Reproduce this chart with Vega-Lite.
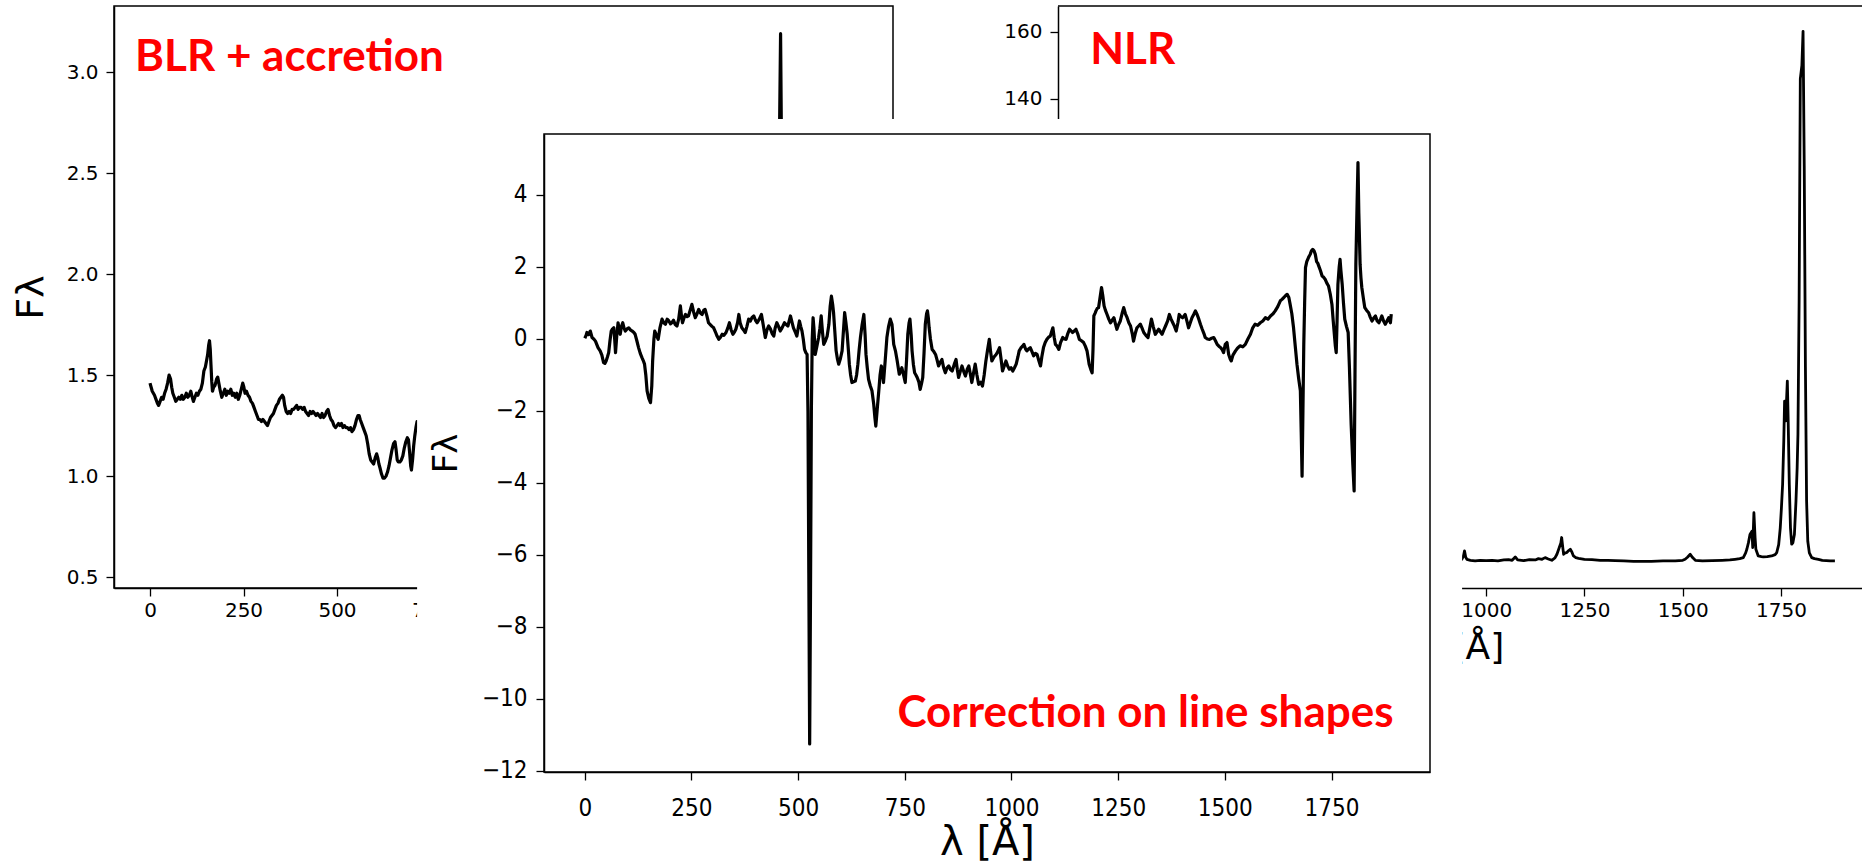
{
  "$schema": "https://vega.github.io/schema/vega-lite/v6.json",
  "background": "white",
  "padding": {"left": 11, "top": 5, "right": 0, "bottom": 0},
  "autosize": {"type": "pad"},
  "config": {
    "view": {"stroke": null},
    "axis": {"grid": false, "domainColor": "black", "domainWidth": 1.5, "tickColor": "black", "tickWidth": 1.3, "tickSize": 8,
      "labelColor": "black", "labelFont": "DejaVu Sans", "labelFontSize": 20, "labelPadding": 4,
      "titleColor": "black", "titleFont": "DejaVu Sans", "titleFontWeight": "normal", "titleFontSize": 38,
      "labelFlush": false, "labelOverlap": false}
  },
  "datasets": {
    "blr": [
      {"w":0,"f":1.46},{"w":3,"f":1.44},{"w":6,"f":1.42},{"w":9,"f":1.41},{"w":12,"f":1.40},{"w":16,"f":1.38},{"w":20,"f":1.36},{"w":23,"f":1.35},{"w":27,"f":1.37},{"w":31,"f":1.39},{"w":35,"f":1.38},{"w":39,"f":1.41},{"w":43,"f":1.43},{"w":47,"f":1.46},{"w":51,"f":1.50},{"w":55,"f":1.48},{"w":58,"f":1.44},{"w":61,"f":1.41},{"w":65,"f":1.39},{"w":69,"f":1.37},{"w":73,"f":1.38},{"w":77,"f":1.39},{"w":81,"f":1.38},{"w":85,"f":1.40},{"w":89,"f":1.38},{"w":93,"f":1.39},{"w":97,"f":1.41},{"w":101,"f":1.39},{"w":105,"f":1.40},{"w":109,"f":1.42},{"w":113,"f":1.39},{"w":116,"f":1.37},{"w":120,"f":1.39},{"w":124,"f":1.41},{"w":128,"f":1.40},{"w":132,"f":1.42},{"w":136,"f":1.43},{"w":140,"f":1.46},{"w":144,"f":1.52},{"w":148,"f":1.54},{"w":151,"f":1.57},{"w":154,"f":1.60},{"w":157,"f":1.65},{"w":159,"f":1.67},{"w":161,"f":1.63},{"w":163,"f":1.55},{"w":165,"f":1.47},{"w":167,"f":1.42},{"w":170,"f":1.44},{"w":174,"f":1.45},{"w":178,"f":1.48},{"w":181,"f":1.49},{"w":184,"f":1.46},{"w":188,"f":1.42},{"w":192,"f":1.39},{"w":196,"f":1.41},{"w":200,"f":1.43},{"w":204,"f":1.40},{"w":208,"f":1.42},{"w":212,"f":1.41},{"w":216,"f":1.43},{"w":220,"f":1.40},{"w":224,"f":1.41},{"w":228,"f":1.39},{"w":232,"f":1.41},{"w":236,"f":1.38},{"w":240,"f":1.40},{"w":244,"f":1.43},{"w":248,"f":1.46},{"w":251,"f":1.44},{"w":254,"f":1.41},{"w":258,"f":1.42},{"w":262,"f":1.40},{"w":266,"f":1.39},{"w":270,"f":1.37},{"w":274,"f":1.36},{"w":278,"f":1.34},{"w":282,"f":1.32},{"w":286,"f":1.30},{"w":290,"f":1.28},{"w":294,"f":1.28},{"w":298,"f":1.27},{"w":302,"f":1.28},{"w":306,"f":1.27},{"w":310,"f":1.26},{"w":314,"f":1.25},{"w":318,"f":1.27},{"w":322,"f":1.29},{"w":326,"f":1.30},{"w":330,"f":1.31},{"w":334,"f":1.33},{"w":338,"f":1.35},{"w":342,"f":1.36},{"w":346,"f":1.38},{"w":350,"f":1.39},{"w":354,"f":1.40},{"w":357,"f":1.39},{"w":360,"f":1.35},{"w":364,"f":1.32},{"w":368,"f":1.31},{"w":372,"f":1.32},{"w":376,"f":1.31},{"w":380,"f":1.33},{"w":384,"f":1.33},{"w":388,"f":1.34},{"w":392,"f":1.35},{"w":396,"f":1.33},{"w":400,"f":1.34},{"w":404,"f":1.34},{"w":408,"f":1.33},{"w":412,"f":1.34},{"w":416,"f":1.32},{"w":420,"f":1.31},{"w":424,"f":1.30},{"w":428,"f":1.32},{"w":432,"f":1.31},{"w":436,"f":1.32},{"w":440,"f":1.31},{"w":444,"f":1.30},{"w":448,"f":1.31},{"w":452,"f":1.30},{"w":456,"f":1.29},{"w":460,"f":1.31},{"w":464,"f":1.29},{"w":468,"f":1.30},{"w":472,"f":1.32},{"w":476,"f":1.33},{"w":480,"f":1.30},{"w":484,"f":1.28},{"w":488,"f":1.27},{"w":492,"f":1.25},{"w":496,"f":1.24},{"w":500,"f":1.25},{"w":504,"f":1.26},{"w":508,"f":1.25},{"w":512,"f":1.26},{"w":516,"f":1.24},{"w":520,"f":1.25},{"w":524,"f":1.24},{"w":528,"f":1.24},{"w":532,"f":1.23},{"w":536,"f":1.24},{"w":540,"f":1.22},{"w":544,"f":1.23},{"w":548,"f":1.25},{"w":552,"f":1.28},{"w":556,"f":1.30},{"w":559,"f":1.30},{"w":562,"f":1.28},{"w":566,"f":1.26},{"w":570,"f":1.24},{"w":574,"f":1.22},{"w":578,"f":1.20},{"w":582,"f":1.16},{"w":586,"f":1.11},{"w":590,"f":1.08},{"w":594,"f":1.07},{"w":598,"f":1.06},{"w":602,"f":1.09},{"w":606,"f":1.11},{"w":609,"f":1.09},{"w":612,"f":1.06},{"w":615,"f":1.04},{"w":619,"f":1.01},{"w":623,"f":0.99},{"w":627,"f":0.99},{"w":631,"f":1.00},{"w":635,"f":1.02},{"w":639,"f":1.05},{"w":643,"f":1.09},{"w":647,"f":1.13},{"w":651,"f":1.16},{"w":655,"f":1.17},{"w":658,"f":1.13},{"w":661,"f":1.08},{"w":664,"f":1.07},{"w":668,"f":1.07},{"w":672,"f":1.08},{"w":676,"f":1.10},{"w":680,"f":1.14},{"w":684,"f":1.17},{"w":688,"f":1.19},{"w":691,"f":1.18},{"w":694,"f":1.12},{"w":697,"f":1.05},{"w":699,"f":1.03},{"w":702,"f":1.08},{"w":705,"f":1.15},{"w":708,"f":1.20},{"w":711,"f":1.24},{"w":714,"f":1.27},{"w":718,"f":1.26},{"w":722,"f":1.22},
      {"w":740,"f":1.15},{"w":780,"f":1.20},{"w":820,"f":1.18},{"w":860,"f":1.15},{"w":900,"f":1.12},{"w":940,"f":1.10},{"w":980,"f":1.08},{"w":1020,"f":1.06},{"w":1060,"f":1.04},{"w":1100,"f":1.03},{"w":1140,"f":1.02},{"w":1180,"f":1.05},{"w":1200,"f":1.10},{"w":1220,"f":1.02},{"w":1260,"f":0.98},{"w":1300,"f":0.96},{"w":1340,"f":0.95},{"w":1380,"f":0.93},{"w":1420,"f":0.92},{"w":1460,"f":0.90},{"w":1500,"f":0.88},{"w":1540,"f":0.87},{"w":1580,"f":0.86},{"w":1620,"f":0.85},{"w":1650,"f":0.88},{"w":1670,"f":1.00},{"w":1678,"f":1.60},{"w":1682,"f":2.50},{"w":1686,"f":3.19},{"w":1689,"f":2.50},{"w":1692,"f":1.60},{"w":1696,"f":1.00},{"w":1720,"f":0.90},{"w":1760,"f":1.20},{"w":1780,"f":1.40},{"w":1800,"f":0.58},{"w":1810,"f":1.80},{"w":1830,"f":0.90},{"w":1860,"f":0.80},{"w":1890,"f":0.78}
    ],
    "nlr": [
      {"w":0,"f":2.4},{"w":40,"f":2.5},{"w":80,"f":2.3},{"w":120,"f":2.6},{"w":160,"f":2.4},{"w":200,"f":2.7},{"w":240,"f":2.5},{"w":280,"f":2.6},{"w":320,"f":2.4},{"w":360,"f":2.5},{"w":400,"f":2.3},{"w":440,"f":2.6},{"w":480,"f":2.8},{"w":520,"f":2.5},{"w":560,"f":2.4},{"w":600,"f":2.6},{"w":640,"f":2.5},{"w":680,"f":2.7},{"w":720,"f":2.4},{"w":760,"f":2.5},{"w":800,"f":2.3},{"w":840,"f":2.6},{"w":880,"f":2.4},{"w":920,"f":2.5},
      {"w":930,"f":2.4},{"w":938,"f":2.6},{"w":942,"f":3.5},{"w":945,"f":5.1},{"w":948,"f":3.2},{"w":951,"f":2.6},{"w":960,"f":2.3},{"w":972,"f":2.1},{"w":985,"f":2.3},{"w":1000,"f":2.2},{"w":1015,"f":2.3},{"w":1030,"f":2.1},{"w":1045,"f":2.4},{"w":1057,"f":2.5},{"w":1066,"f":2.3},{"w":1074,"f":3.3},{"w":1080,"f":2.4},{"w":1095,"f":2.2},{"w":1110,"f":2.5},{"w":1125,"f":2.4},{"w":1133,"f":2.8},{"w":1142,"f":2.6},{"w":1150,"f":3.1},{"w":1158,"f":2.7},{"w":1167,"f":2.3},{"w":1175,"f":3.0},{"w":1180,"f":4.1},{"w":1186,"f":6.1},{"w":1190,"f":7.5},{"w":1192,"f":9.1},{"w":1195,"f":6.0},{"w":1197,"f":4.1},{"w":1201,"f":4.5},{"w":1205,"f":4.6},{"w":1210,"f":5.2},{"w":1214,"f":5.6},{"w":1218,"f":4.8},{"w":1222,"f":3.6},{"w":1228,"f":3.1},{"w":1235,"f":2.9},{"w":1250,"f":2.6},{"w":1269,"f":2.5},{"w":1290,"f":2.3},{"w":1310,"f":2.3},{"w":1328,"f":2.2},{"w":1350,"f":2.1},{"w":1375,"f":2.0},{"w":1396,"f":2.0},{"w":1420,"f":2.0},{"w":1450,"f":2.1},{"w":1481,"f":2.1},{"w":1500,"f":2.3},{"w":1506,"f":2.6},{"w":1512,"f":3.2},{"w":1519,"f":4.1},{"w":1525,"f":3.1},{"w":1532,"f":2.3},{"w":1550,"f":2.1},{"w":1575,"f":2.2},{"w":1600,"f":2.3},{"w":1620,"f":2.4},{"w":1633,"f":2.6},{"w":1645,"f":2.8},{"w":1654,"f":3.1},{"w":1660,"f":4.5},{"w":1663,"f":5.6},{"w":1667,"f":7.5},{"w":1671,"f":10.0},{"w":1676,"f":11.0},{"w":1678,"f":6.1},{"w":1681,"f":16.5},{"w":1684,"f":9.0},{"w":1686,"f":5.6},{"w":1692,"f":3.6},{"w":1700,"f":3.4},{"w":1705,"f":3.3},{"w":1715,"f":3.4},{"w":1726,"f":3.6},{"w":1735,"f":4.0},{"w":1739,"f":4.6},{"w":1744,"f":7.0},{"w":1748,"f":12.0},{"w":1751,"f":18.0},{"w":1754,"f":25.0},{"w":1757,"f":38.0},{"w":1759,"f":49.8},{"w":1762,"f":43.9},{"w":1764,"f":50.0},{"w":1766,"f":55.8},{"w":1768,"f":45.0},{"w":1771,"f":25.0},{"w":1774,"f":12.0},{"w":1777,"f":7.1},{"w":1780,"f":7.5},{"w":1784,"f":10.0},{"w":1788,"f":20.0},{"w":1791,"f":30.0},{"w":1793,"f":39.9},{"w":1796,"f":80.0},{"w":1799,"f":146.0},{"w":1803,"f":150.0},{"w":1806,"f":160.2},{"w":1809,"f":120.0},{"w":1812,"f":60.0},{"w":1815,"f":20.0},{"w":1818,"f":8.0},{"w":1822,"f":4.5},{"w":1828,"f":3.1},{"w":1835,"f":2.8},{"w":1845,"f":2.6},{"w":1855,"f":2.3},{"w":1865,"f":2.2},{"w":1875,"f":2.1},{"w":1887,"f":2.1}
    ],
    "corr": [
      {"w":0,"f":0.02},{"w":3,"f":0.10},{"w":5,"f":0.18},{"w":9,"f":0.12},{"w":13,"f":0.22},{"w":17,"f":0.04},{"w":21,"f":0.00},{"w":25,"f":-0.06},{"w":28,"f":-0.15},{"w":31,"f":-0.24},{"w":36,"f":-0.33},{"w":40,"f":-0.45},{"w":44,"f":-0.66},{"w":47,"f":-0.68},{"w":50,"f":-0.61},{"w":53,"f":-0.50},{"w":56,"f":-0.38},{"w":59,"f":-0.05},{"w":62,"f":0.22},{"w":65,"f":0.28},{"w":68,"f":0.31},{"w":70,"f":0.00},{"w":72,"f":-0.38},{"w":75,"f":0.10},{"w":78,"f":0.45},{"w":80,"f":0.30},{"w":83,"f":0.13},{"w":86,"f":0.35},{"w":89,"f":0.45},{"w":92,"f":0.30},{"w":95,"f":0.22},{"w":99,"f":0.28},{"w":103,"f":0.31},{"w":107,"f":0.25},{"w":111,"f":0.22},{"w":115,"f":0.18},{"w":118,"f":0.13},{"w":122,"f":-0.05},{"w":126,"f":-0.24},{"w":130,"f":-0.40},{"w":134,"f":-0.52},{"w":137,"f":-0.60},{"w":140,"f":-0.70},{"w":143,"f":-1.00},{"w":146,"f":-1.44},{"w":150,"f":-1.65},{"w":154,"f":-1.77},{"w":157,"f":-1.30},{"w":159,"f":-0.61},{"w":162,"f":0.00},{"w":164,"f":0.22},{"w":168,"f":0.10},{"w":172,"f":-0.01},{"w":176,"f":0.30},{"w":181,"f":0.55},{"w":185,"f":0.45},{"w":189,"f":0.41},{"w":193,"f":0.55},{"w":197,"f":0.50},{"w":201,"f":0.42},{"w":204,"f":0.45},{"w":208,"f":0.52},{"w":212,"f":0.40},{"w":216,"f":0.36},{"w":220,"f":0.55},{"w":224,"f":0.92},{"w":227,"f":0.60},{"w":229,"f":0.45},{"w":233,"f":0.60},{"w":236,"f":0.68},{"w":240,"f":0.62},{"w":243,"f":0.64},{"w":247,"f":0.80},{"w":251,"f":0.96},{"w":255,"f":0.75},{"w":259,"f":0.59},{"w":263,"f":0.70},{"w":267,"f":0.82},{"w":271,"f":0.72},{"w":275,"f":0.68},{"w":279,"f":0.80},{"w":282,"f":0.82},{"w":286,"f":0.65},{"w":290,"f":0.45},{"w":294,"f":0.40},{"w":298,"f":0.35},{"w":302,"f":0.31},{"w":306,"f":0.20},{"w":310,"f":0.08},{"w":314,"f":-0.01},{"w":318,"f":0.05},{"w":322,"f":0.13},{"w":326,"f":0.10},{"w":331,"f":0.18},{"w":335,"f":0.30},{"w":339,"f":0.45},{"w":343,"f":0.25},{"w":347,"f":0.13},{"w":351,"f":0.20},{"w":354,"f":0.27},{"w":358,"f":0.45},{"w":361,"f":0.68},{"w":364,"f":0.45},{"w":368,"f":0.31},{"w":372,"f":0.25},{"w":376,"f":0.18},{"w":380,"f":0.35},{"w":384,"f":0.55},{"w":388,"f":0.50},{"w":392,"f":0.60},{"w":396,"f":0.64},{"w":400,"f":0.52},{"w":404,"f":0.45},{"w":409,"f":0.55},{"w":414,"f":0.68},{"w":418,"f":0.40},{"w":423,"f":0.04},{"w":427,"f":0.25},{"w":431,"f":0.36},{"w":435,"f":0.28},{"w":439,"f":0.15},{"w":443,"f":0.08},{"w":446,"f":0.30},{"w":450,"f":0.45},{"w":454,"f":0.35},{"w":458,"f":0.22},{"w":462,"f":0.30},{"w":468,"f":0.45},{"w":472,"f":0.40},{"w":476,"f":0.36},{"w":479,"f":0.50},{"w":482,"f":0.64},{"w":486,"f":0.45},{"w":489,"f":0.31},{"w":493,"f":0.20},{"w":497,"f":0.08},{"w":500,"f":0.30},{"w":503,"f":0.50},{"w":506,"f":0.35},{"w":509,"f":0.22},{"w":512,"f":0.00},{"w":515,"f":-0.29},{"w":518,"f":-0.38},{"w":521,"f":-0.43},{"w":523,"f":-2.0},{"w":525,"f":-6.5},{"w":527,"f":-11.25},{"w":529,"f":-7.0},{"w":531,"f":-2.0},{"w":533,"f":0.0},{"w":535,"f":0.59},{"w":537,"f":0.30},{"w":540,"f":-0.43},{"w":544,"f":-0.20},{"w":548,"f":0.04},{"w":551,"f":0.30},{"w":554,"f":0.64},{"w":557,"f":0.20},{"w":560,"f":-0.15},{"w":564,"f":-0.05},{"w":568,"f":0.08},{"w":572,"f":0.40},{"w":575,"f":0.90},{"w":578,"f":1.19},{"w":581,"f":0.95},{"w":583,"f":0.73},{"w":586,"f":0.20},{"w":589,"f":-0.33},{"w":592,"f":-0.55},{"w":595,"f":-0.70},{"w":599,"f":-0.55},{"w":603,"f":-0.33},{"w":606,"f":0.20},{"w":609,"f":0.73},{"w":612,"f":0.45},{"w":615,"f":0.13},{"w":618,"f":-0.35},{"w":620,"f":-0.70},{"w":623,"f":-1.00},{"w":626,"f":-1.21},{"w":630,"f":-1.19},{"w":634,"f":-1.17},{"w":637,"f":-1.00},{"w":640,"f":-0.70},{"w":643,"f":-0.30},{"w":646,"f":0.04},{"w":650,"f":0.40},{"w":654,"f":0.68},{"w":657,"f":0.10},{"w":659,"f":-0.43},{"w":662,"f":-0.80},{"w":665,"f":-1.12},{"w":669,"f":-1.30},{"w":673,"f":-1.44},{"w":677,"f":-1.80},{"w":680,"f":-2.20},{"w":682,"f":-2.42},{"w":685,"f":-2.00},{"w":689,"f":-1.44},{"w":692,"f":-1.00},{"w":695,"f":-0.75},{"w":698,"f":-1.00},{"w":700,"f":-1.21},{"w":704,"f":-0.60},{"w":708,"f":0.04},{"w":712,"f":0.35},{"w":716,"f":0.55},{"w":720,"f":0.40},{"w":724,"f":-0.15},{"w":728,"f":-0.33},{"w":732,"f":-0.60},{"w":737,"f":-0.98},{"w":740,"f":-0.90},{"w":743,"f":-0.80},{"w":747,"f":-1.00},{"w":751,"f":-1.21},{"w":754,"f":-0.60},{"w":757,"f":0.13},{"w":760,"f":0.45},{"w":762,"f":0.55},{"w":765,"f":0.10},{"w":767,"f":-0.33},{"w":770,"f":-0.70},{"w":773,"f":-0.94},{"w":776,"f":-1.00},{"w":779,"f":-1.07},{"w":783,"f":-1.20},{"w":786,"f":-1.40},{"w":789,"f":-1.25},{"w":792,"f":-1.07},{"w":795,"f":-0.40},{"w":798,"f":0.41},{"w":801,"f":0.70},{"w":803,"f":0.78},{"w":805,"f":0.60},{"w":807,"f":0.31},{"w":810,"f":0.00},{"w":814,"f":-0.29},{"w":818,"f":-0.35},{"w":822,"f":-0.43},{"w":826,"f":-0.60},{"w":829,"f":-0.75},{"w":833,"f":-0.65},{"w":837,"f":-0.57},{"w":841,"f":-0.80},{"w":845,"f":-0.94},{"w":849,"f":-0.80},{"w":853,"f":-0.75},{"w":857,"f":-0.85},{"w":861,"f":-0.89},{"w":866,"f":-0.70},{"w":870,"f":-0.57},{"w":873,"f":-0.85},{"w":876,"f":-1.07},{"w":880,"f":-0.90},{"w":884,"f":-0.75},{"w":888,"f":-0.90},{"w":892,"f":-1.03},{"w":896,"f":-0.85},{"w":900,"f":-0.75},{"w":904,"f":-1.00},{"w":907,"f":-1.21},{"w":911,"f":-0.95},{"w":915,"f":-0.70},{"w":919,"f":-1.00},{"w":923,"f":-1.26},{"w":928,"f":-1.20},{"w":932,"f":-1.31},{"w":936,"f":-1.00},{"w":940,"f":-0.61},{"w":944,"f":-0.30},{"w":948,"f":-0.01},{"w":951,"f":-0.35},{"w":954,"f":-0.61},{"w":959,"f":-0.50},{"w":964,"f":-0.43},{"w":968,"f":-0.35},{"w":972,"f":-0.24},{"w":976,"f":-0.60},{"w":979,"f":-0.89},{"w":983,"f":-0.75},{"w":987,"f":-0.61},{"w":991,"f":-0.75},{"w":995,"f":-0.84},{"w":999,"f":-0.80},{"w":1003,"f":-0.89},{"w":1007,"f":-0.80},{"w":1011,"f":-0.70},{"w":1015,"f":-0.50},{"w":1018,"f":-0.33},{"w":1022,"f":-0.25},{"w":1026,"f":-0.20},{"w":1029,"f":-0.15},{"w":1033,"f":-0.28},{"w":1036,"f":-0.33},{"w":1040,"f":-0.28},{"w":1044,"f":-0.24},{"w":1048,"f":-0.35},{"w":1052,"f":-0.47},{"w":1056,"f":-0.40},{"w":1060,"f":-0.43},{"w":1064,"f":-0.60},{"w":1068,"f":-0.75},{"w":1071,"f":-0.50},{"w":1075,"f":-0.24},{"w":1079,"f":-0.10},{"w":1083,"f":-0.01},{"w":1087,"f":0.05},{"w":1091,"f":0.08},{"w":1094,"f":0.20},{"w":1097,"f":0.31},{"w":1100,"f":0.05},{"w":1103,"f":-0.15},{"w":1107,"f":-0.20},{"w":1111,"f":-0.29},{"w":1115,"f":-0.10},{"w":1120,"f":0.04},{"w":1124,"f":0.00},{"w":1128,"f":-0.01},{"w":1132,"f":0.15},{"w":1136,"f":0.27},{"w":1140,"f":0.22},{"w":1143,"f":0.18},{"w":1147,"f":0.22},{"w":1151,"f":0.27},{"w":1155,"f":0.15},{"w":1159,"f":-0.01},{"w":1164,"f":-0.05},{"w":1169,"f":-0.10},{"w":1173,"f":-0.20},{"w":1177,"f":-0.33},{"w":1180,"f":-0.55},{"w":1182,"f":-0.70},{"w":1186,"f":-0.85},{"w":1189,"f":-0.94},{"w":1191,"f":-0.30},{"w":1193,"f":0.64},{"w":1196,"f":0.72},{"w":1198,"f":0.78},{"w":1201,"f":0.85},{"w":1204,"f":0.87},{"w":1207,"f":1.10},{"w":1211,"f":1.43},{"w":1214,"f":1.20},{"w":1217,"f":0.92},{"w":1220,"f":0.80},{"w":1224,"f":0.68},{"w":1228,"f":0.55},{"w":1232,"f":0.45},{"w":1236,"f":0.52},{"w":1240,"f":0.59},{"w":1244,"f":0.40},{"w":1247,"f":0.27},{"w":1251,"f":0.40},{"w":1255,"f":0.50},{"w":1259,"f":0.70},{"w":1263,"f":0.87},{"w":1267,"f":0.70},{"w":1271,"f":0.59},{"w":1275,"f":0.45},{"w":1279,"f":0.36},{"w":1283,"f":0.15},{"w":1286,"f":-0.06},{"w":1290,"f":0.15},{"w":1294,"f":0.31},{"w":1298,"f":0.36},{"w":1302,"f":0.41},{"w":1306,"f":0.30},{"w":1310,"f":0.18},{"w":1315,"f":0.10},{"w":1320,"f":0.04},{"w":1324,"f":0.30},{"w":1328,"f":0.55},{"w":1332,"f":0.35},{"w":1337,"f":0.13},{"w":1341,"f":0.20},{"w":1345,"f":0.27},{"w":1349,"f":0.20},{"w":1353,"f":0.13},{"w":1357,"f":0.25},{"w":1361,"f":0.36},{"w":1366,"f":0.50},{"w":1370,"f":0.68},{"w":1374,"f":0.55},{"w":1378,"f":0.45},{"w":1382,"f":0.35},{"w":1386,"f":0.22},{"w":1390,"f":0.45},{"w":1393,"f":0.68},{"w":1397,"f":0.62},{"w":1401,"f":0.59},{"w":1404,"f":0.63},{"w":1407,"f":0.68},{"w":1411,"f":0.50},{"w":1415,"f":0.31},{"w":1419,"f":0.45},{"w":1423,"f":0.59},{"w":1427,"f":0.68},{"w":1431,"f":0.78},{"w":1435,"f":0.68},{"w":1439,"f":0.55},{"w":1443,"f":0.40},{"w":1447,"f":0.27},{"w":1451,"f":0.15},{"w":1454,"f":0.04},{"w":1459,"f":0.00},{"w":1464,"f":-0.01},{"w":1469,"f":0.02},{"w":1474,"f":0.04},{"w":1478,"f":-0.05},{"w":1482,"f":-0.15},{"w":1486,"f":-0.20},{"w":1490,"f":-0.24},{"w":1494,"f":-0.30},{"w":1497,"f":-0.38},{"w":1501,"f":-0.15},{"w":1505,"f":-0.10},{"w":1509,"f":-0.43},{"w":1513,"f":-0.57},{"w":1515,"f":-0.61},{"w":1519,"f":-0.45},{"w":1525,"f":-0.33},{"w":1530,"f":-0.25},{"w":1536,"f":-0.19},{"w":1542,"f":-0.22},{"w":1548,"f":-0.15},{"w":1554,"f":0.00},{"w":1560,"f":0.13},{"w":1565,"f":0.30},{"w":1571,"f":0.41},{"w":1577,"f":0.38},{"w":1583,"f":0.45},{"w":1589,"f":0.50},{"w":1595,"f":0.59},{"w":1601,"f":0.55},{"w":1607,"f":0.64},{"w":1613,"f":0.70},{"w":1618,"f":0.78},{"w":1624,"f":0.90},{"w":1630,"f":1.06},{"w":1634,"f":1.10},{"w":1638,"f":1.15},{"w":1642,"f":1.20},{"w":1646,"f":1.24},{"w":1650,"f":1.15},{"w":1653,"f":0.96},{"w":1657,"f":0.70},{"w":1661,"f":0.31},{"w":1665,"f":-0.20},{"w":1669,"f":-0.70},{"w":1673,"f":-1.10},{"w":1677,"f":-1.44},{"w":1679,"f":-2.6},{"w":1681,"f":-3.81},{"w":1683,"f":-2.0},{"w":1685,"f":-0.15},{"w":1687,"f":1.00},{"w":1689,"f":1.98},{"w":1692,"f":2.15},{"w":1696,"f":2.26},{"w":1700,"f":2.35},{"w":1703,"f":2.45},{"w":1706,"f":2.49},{"w":1709,"f":2.45},{"w":1712,"f":2.35},{"w":1715,"f":2.15},{"w":1718,"f":2.10},{"w":1720,"f":2.03},{"w":1724,"f":1.90},{"w":1728,"f":1.75},{"w":1731,"f":1.72},{"w":1735,"f":1.66},{"w":1739,"f":1.55},{"w":1743,"f":1.47},{"w":1747,"f":1.25},{"w":1751,"f":0.96},{"w":1754,"f":0.50},{"w":1757,"f":0.08},{"w":1759,"f":-0.20},{"w":1761,"f":-0.38},{"w":1763,"f":0.50},{"w":1765,"f":1.52},{"w":1768,"f":2.00},{"w":1770,"f":2.21},{"w":1772,"f":1.90},{"w":1775,"f":1.52},{"w":1778,"f":1.00},{"w":1781,"f":0.55},{"w":1785,"f":0.35},{"w":1789,"f":0.18},{"w":1792,"f":-0.80},{"w":1796,"f":-2.37},{"w":1800,"f":-3.50},{"w":1803,"f":-4.22},{"w":1805,"f":-1.0},{"w":1807,"f":2.07},{"w":1810,"f":3.80},{"w":1812,"f":4.90},{"w":1814,"f":3.50},{"w":1817,"f":2.07},{"w":1819,"f":1.70},{"w":1821,"f":1.43},{"w":1825,"f":1.10},{"w":1828,"f":0.87},{"w":1832,"f":0.80},{"w":1837,"f":0.73},{"w":1841,"f":0.60},{"w":1845,"f":0.50},{"w":1849,"f":0.58},{"w":1853,"f":0.64},{"w":1857,"f":0.50},{"w":1861,"f":0.45},{"w":1865,"f":0.55},{"w":1868,"f":0.64},{"w":1872,"f":0.50},{"w":1876,"f":0.41},{"w":1880,"f":0.50},{"w":1884,"f":0.59},{"w":1888,"f":0.45},{"w":1890,"f":0.69}
    ]
  },
  "concat": [
    {
      "width": 779, "height": 582,
      "view": {"stroke": "black", "strokeWidth": 1.5},
      "layer": [
        {
          "data": {"name": "blr"},
          "mark": {"type": "line", "color": "black", "strokeWidth": 3.2, "strokeJoin": "round"},
          "encoding": {
            "x": {"field": "w", "type": "quantitative", "scale": {"domain": [-96.3, 1986.6], "nice": false, "zero": false},
              "axis": {"values": [0, 250, 500, 750, 1000, 1250, 1500, 1750], "format": "d", "title": "λ [Å]", "titleFontSize": 36, "titlePadding": 10}},
            "y": {"field": "f", "type": "quantitative", "scale": {"domain": [0.446, 3.327], "nice": false, "zero": false},
              "axis": {"values": [0.5, 1, 1.5, 2, 2.5, 3], "format": ".1f", "title": "Fλ", "labelPadding": 8, "titlePadding": 16}}
          }
        },
        {
          "data": {"values": [{}]},
          "mark": {"type": "text", "text": "BLR + accretion", "font": "Lato", "fontWeight": "bold", "fontSize": 44, "color": "#ff0000", "align": "center", "baseline": "alphabetic"},
          "encoding": {"x": {"datum": 373, "type": "quantitative"}, "y": {"datum": 3.005, "type": "quantitative"}}
        }
      ]
    },
    {
      "width": 806, "height": 582,
      "view": {"stroke": null},
      "layer": [
        {
          "data": {"name": "nlr"},
          "mark": {"type": "line", "color": "black", "strokeWidth": 2.8, "strokeJoin": "round"},
          "encoding": {
            "x": {"field": "w", "type": "quantitative", "scale": {"domain": [-89, 1961], "nice": false, "zero": false},
              "axis": {"values": [0, 250, 500, 750, 1000, 1250, 1500, 1750], "format": "d", "title": "λ [Å]", "titleFontSize": 36, "titlePadding": 10}},
            "y": {"field": "f", "type": "quantitative", "scale": {"domain": [-5.97, 167.76], "nice": false, "zero": false},
              "axis": {"values": [0, 20, 40, 60, 80, 100, 120, 140, 160], "format": "d", "title": "Fλ", "labelPadding": 8, "titlePadding": 16}}
          }
        },
        {
          "data": {"values": [{}]},
          "mark": {"type": "rule", "color": "black", "strokeWidth": 1.5},
          "encoding": {"y": {"datum": 167.76, "type": "quantitative"}}
        },
        {
          "data": {"values": [{}]},
          "mark": {"type": "text", "text": "NLR", "font": "Lato", "fontWeight": "bold", "fontSize": 44, "color": "#ff0000", "align": "center", "baseline": "alphabetic"},
          "encoding": {"x": {"datum": 101, "type": "quantitative"}, "y": {"datum": 150.45, "type": "quantitative"}}
        }
      ]
    },
    {
      "hconcat": [
        {
          "width": 430, "height": 10,
          "view": {"stroke": null},
          "data": {"values": []},
          "mark": "point"
        },
        {
          "width": 886, "height": 638,
          "view": {"stroke": null},
          "layer": [
            {
              "data": {"values": [{}]},
              "mark": {"type": "rect", "color": "white", "opacity": 1},
              "encoding": {
                "x": {"datum": -393, "type": "quantitative", "scale": {"domain": [-95.6, 1980.8], "nice": false, "zero": false}},
                "x2": {"datum": 2056},
                "y": {"datum": 6.11, "type": "quantitative", "scale": {"domain": [-12.03, 5.694], "nice": false, "zero": false}},
                "y2": {"datum": -14.3}
              }
            },
            {
              "data": {"name": "corr"},
              "mark": {"type": "line", "color": "black", "strokeWidth": 3.2, "strokeJoin": "round"},
              "encoding": {
                "x": {"field": "w", "type": "quantitative",
                  "axis": {"values": [0, 250, 500, 750, 1000, 1250, 1500, 1750], "format": "d", "title": "λ [Å]", "titleFontSize": 40, "titlePadding": 2, "zindex": 1,
                    "labelFont": "DejaVu Sans Condensed, DejaVu Sans", "labelFontSize": 24, "labelPadding": 16}},
                "y": {"field": "f", "type": "quantitative",
                  "axis": {"values": [-12, -10, -8, -6, -4, -2, 0, 2, 4], "format": "d", "title": "Fλ", "titleFontSize": 34, "titlePadding": 18, "zindex": 1,
                    "labelFont": "DejaVu Sans Condensed, DejaVu Sans", "labelFontSize": 24, "labelPadding": 9}}
              }
            },
            {
              "data": {"values": [{}]},
              "mark": {"type": "rect", "filled": false, "color": "black", "strokeWidth": 1.5},
              "encoding": {
                "x": {"datum": -95.6, "type": "quantitative"},
                "x2": {"datum": 1980.8},
                "y": {"datum": 5.694, "type": "quantitative"},
                "y2": {"datum": -12.03}
              }
            },
            {
              "data": {"values": [{}]},
              "mark": {"type": "text", "text": "Correction on line shapes", "font": "Lato", "fontWeight": "bold", "fontSize": 44, "color": "#ff0000", "align": "center", "baseline": "alphabetic"},
              "encoding": {"x": {"datum": 1314, "type": "quantitative"}, "y": {"datum": -10.78, "type": "quantitative"}}
            }
          ]
        }
      ],
      "spacing": 0,
      "bounds": "flush"
    }
  ],
  "columns": 2,
  "align": "none",
  "bounds": "flush",
  "spacing": {"row": -454, "column": 165}
}
